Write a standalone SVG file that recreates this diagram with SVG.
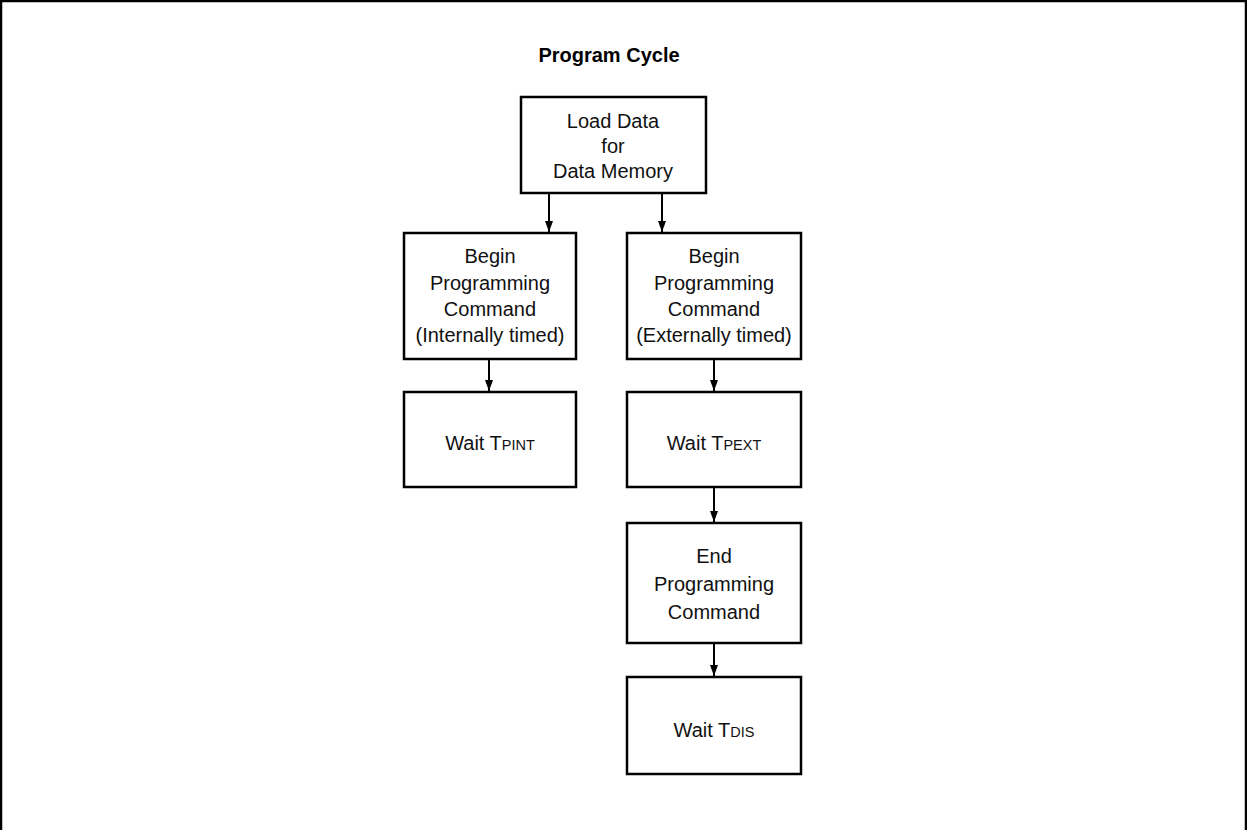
<svg xmlns="http://www.w3.org/2000/svg" width="1247" height="830" viewBox="0 0 1247 830">
<style>
.box{fill:#fff;stroke:#000;stroke-width:2.5}
.t{font-family:"Liberation Sans",Arial,sans-serif;font-size:20px;text-anchor:middle;fill:#111}
.s{font-size:14.5px}
.title{font-family:"Liberation Sans",Arial,sans-serif;font-size:20px;font-weight:bold;text-anchor:middle;fill:#000}
.c{stroke:#000;stroke-width:2;fill:none;marker-end:url(#ah)}
</style>
<defs>
<marker id="ah" markerWidth="11" markerHeight="8" refX="11" refY="4" orient="auto" markerUnits="userSpaceOnUse" viewBox="0 0 11 8">
<path d="M0,0 L11,4 L0,8 Z" fill="#000"/>
</marker>
</defs>
<rect x="0" y="0" width="1247" height="830" fill="#fff"/>
<path d="M1,830 V1 H1246 V830" fill="none" stroke="#000" stroke-width="2.5"/>
<text class="title" x="609" y="62">Program Cycle</text>
<g id="connectors">
<line class="c" x1="549" y1="193" x2="549" y2="232"/>
<line class="c" x1="662" y1="193" x2="662" y2="232"/>
<line class="c" x1="489" y1="359" x2="489" y2="391"/>
<line class="c" x1="714" y1="359" x2="714" y2="391"/>
<line class="c" x1="714" y1="487" x2="714" y2="522"/>
<line class="c" x1="714" y1="643" x2="714" y2="676"/>
</g>
<g id="load">
<rect class="box" x="521" y="97" width="185" height="96"/>
<text class="t" x="613" y="128">Load Data</text>
<text class="t" x="613" y="153">for</text>
<text class="t" x="613" y="178">Data Memory</text>
</g>
<g id="beginInt">
<rect class="box" x="404" y="233" width="172" height="126"/>
<text class="t" x="490" y="263">Begin</text>
<text class="t" x="490" y="290">Programming</text>
<text class="t" x="490" y="316">Command</text>
<text class="t" x="490" y="342">(Internally timed)</text>
</g>
<g id="beginExt">
<rect class="box" x="627" y="233" width="174" height="126"/>
<text class="t" x="714" y="263">Begin</text>
<text class="t" x="714" y="290">Programming</text>
<text class="t" x="714" y="316">Command</text>
<text class="t" x="714" y="342">(Externally timed)</text>
</g>
<g id="waitInt">
<rect class="box" x="404" y="392" width="172" height="95"/>
<text class="t" x="490" y="450">Wait T<tspan class="s">PINT</tspan></text>
</g>
<g id="waitExt">
<rect class="box" x="627" y="392" width="174" height="95"/>
<text class="t" x="714" y="450">Wait T<tspan class="s">PEXT</tspan></text>
</g>
<g id="endProg">
<rect class="box" x="627" y="523" width="174" height="120"/>
<text class="t" x="714" y="563">End</text>
<text class="t" x="714" y="591">Programming</text>
<text class="t" x="714" y="619">Command</text>
</g>
<g id="waitDis">
<rect class="box" x="627" y="677" width="174" height="97"/>
<text class="t" x="714" y="737">Wait T<tspan class="s">DIS</tspan></text>
</g>
</svg>
